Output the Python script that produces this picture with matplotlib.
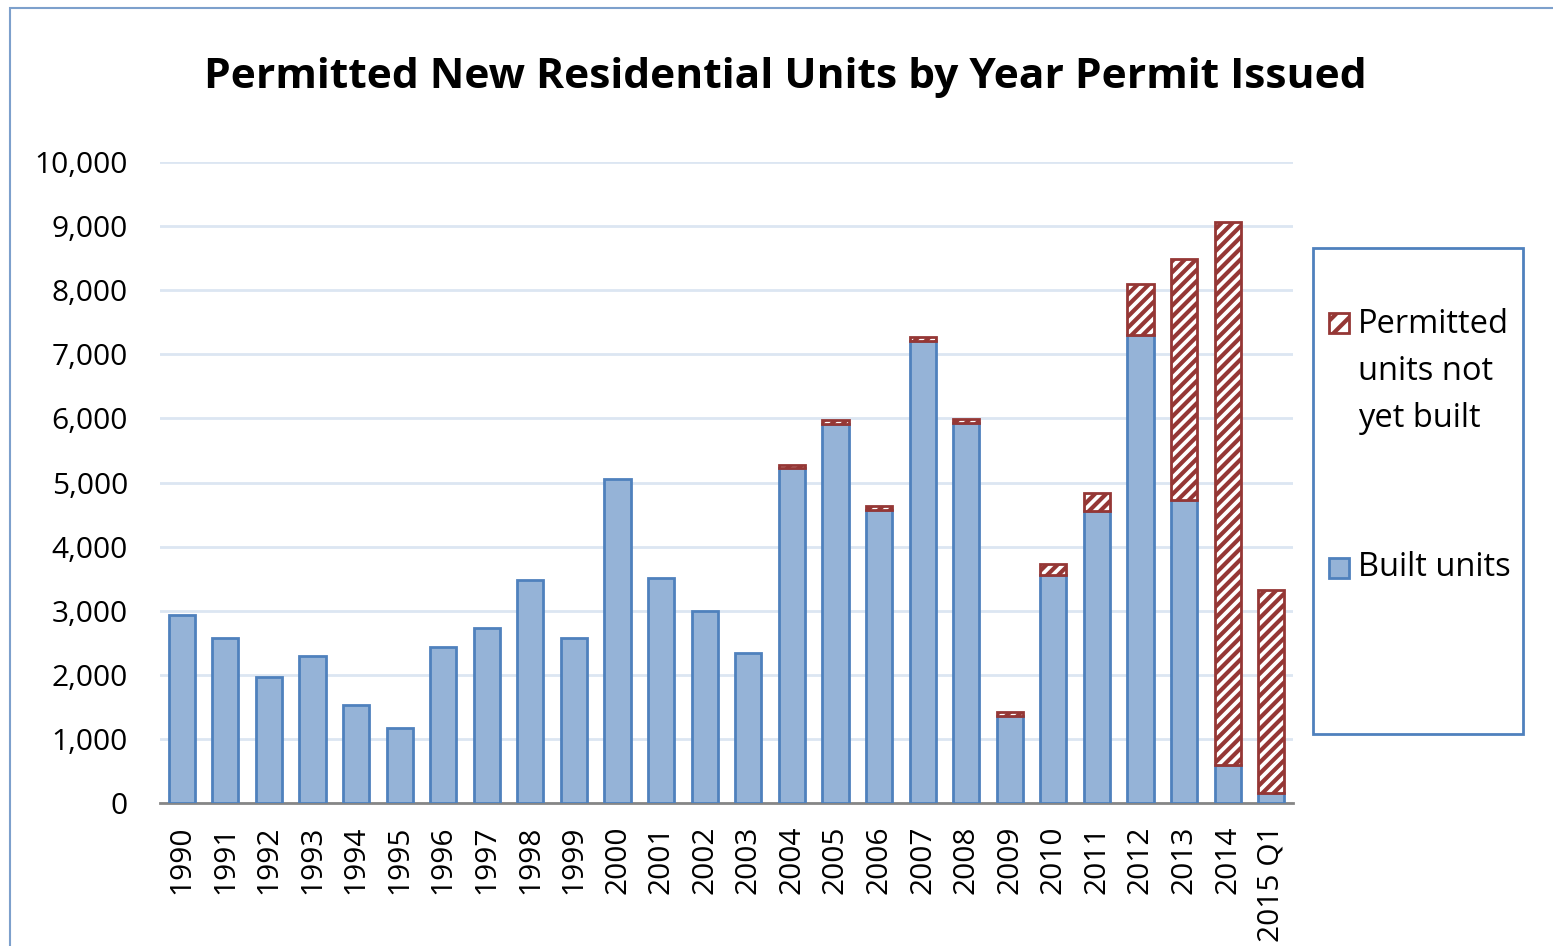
import matplotlib.pyplot as plt
import matplotlib.patches as mpatches
import numpy as np

plt.rcParams['font.family'] = ['Open Sans', 'DejaVu Sans']
plt.rcParams['hatch.linewidth'] = 3

years = ['1990', '1991', '1992', '1993', '1994', '1995', '1996', '1997', '1998', '1999',
         '2000', '2001', '2002', '2003', '2004', '2005', '2006', '2007', '2008', '2009',
         '2010', '2011', '2012', '2013', '2014', '2015 Q1']
built = [2930, 2570, 1965, 2290, 1530, 1170, 2430, 2730, 3480, 2570,
         5055, 3510, 3000, 2340, 5225, 5910, 4570, 7210, 5930, 1360,
         3555, 4555, 7300, 4730, 590, 155]
not_built = [0, 0, 0, 0, 0, 0, 0, 0, 0, 0,
             0, 0, 0, 0, 50, 65, 60, 60, 60, 60,
             175, 280, 800, 3760, 8475, 3165]

blue_fill = '#95b3d7'
blue_edge = '#4f81bd'
red = '#953735'

fig = plt.figure(figsize=(15.53, 9.46), dpi=100)
ax = fig.add_axes([160/1553, 1 - 803/946, 1133/1553, 641/946])

x = np.arange(len(years))
b = np.array(built)
nb = np.array(not_built)
ax.bar(x, b, width=0.6, color=blue_fill, edgecolor=blue_edge, linewidth=2, zorder=3)
m = nb > 0
ax.bar(x[m], nb[m], width=0.6, bottom=b[m], color='white', edgecolor=red,
       hatch='///', linewidth=2, zorder=3)

ax.set_xlim(-0.5, len(years) - 0.5)
ax.set_ylim(0, 10000)
ax.set_yticks(np.arange(0, 10001, 1000))
ax.set_yticklabels([f'{v:,}' for v in range(0, 10001, 1000)])
ax.set_xticks(x)
ax.set_xticklabels(years, rotation=90)
ax.grid(axis='y', color='#dce6f2', linewidth=2, zorder=0)
for s in ['top', 'right', 'left']:
    ax.spines[s].set_visible(False)
ax.spines['bottom'].set_color('#868686')
ax.spines['bottom'].set_linewidth(2)
ax.tick_params(axis='both', length=0, labelsize=21.5)
ax.tick_params(axis='y', pad=23)
ax.tick_params(axis='x', pad=16)

fig.text(785/1553, 1 - 77/946, 'Permitted New Residential Units by Year Permit Issued',
         ha='center', va='center', fontsize=30.6, fontweight='bold')

# outer chart border
fig.patches.append(mpatches.Rectangle((10/1553, -0.1), 1.2, 1 - 8/946 + 0.1,
                                      transform=fig.transFigure, fill=False,
                                      edgecolor='#7da0cc', linewidth=1.5))

# legend box
fig.patches.append(mpatches.Rectangle((1313/1553, 1 - 734/946), 210/1553, 486/946,
                                      transform=fig.transFigure, fill=False,
                                      edgecolor=blue_edge, linewidth=2))
fig.patches.append(mpatches.Rectangle((1329/1553, 1 - 333/946), 20/1553, 20/946,
                                      transform=fig.transFigure, facecolor='white',
                                      edgecolor=red, hatch='//', linewidth=2))
fig.patches.append(mpatches.Rectangle((1329/1553, 1 - 578/946), 20/1553, 20/946,
                                      transform=fig.transFigure, facecolor=blue_fill,
                                      edgecolor=blue_edge, linewidth=2))
fig.text(1358/1553, 1 - 308/946, 'Permitted\nunits not\nyet built', ha='left', va='top',
         fontsize=23.5, linespacing=1.55)
fig.text(1358/1553, 1 - 567/946, 'Built units', ha='left', va='center', fontsize=23.5)

fig.savefig('out.png', dpi=100)
